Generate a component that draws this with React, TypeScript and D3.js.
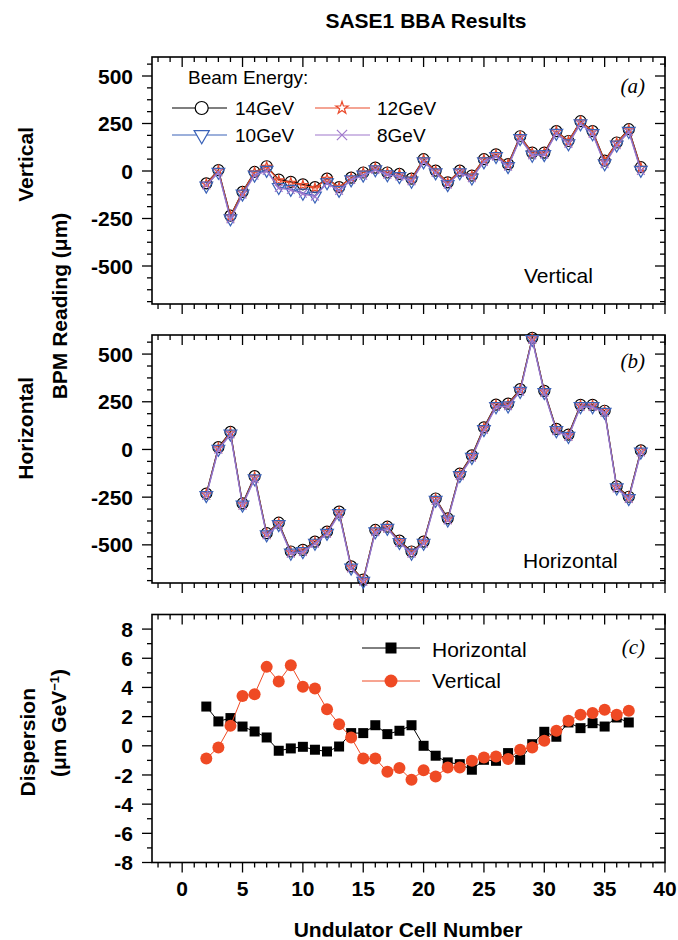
import React from 'react';
import * as d3 from 'd3';

// undulator cells
const cellsBPM = [2, 3, 4, 5, 6, 7, 8, 9, 10, 11, 12, 13, 14, 15, 16, 17, 18, 19, 20, 21, 22, 23, 24, 25, 26, 27, 28, 29, 30, 31, 32, 33, 34, 35, 36, 37, 38];
const cellsDisp = [2, 3, 4, 5, 6, 7, 8, 9, 10, 11, 12, 13, 14, 15, 16, 17, 18, 19, 20, 21, 22, 23, 24, 25, 26, 27, 28, 29, 30, 31, 32, 33, 34, 35, 36, 37];

// (a) vertical BPM reading, um
const vert14 = [-65, 5, -235, -110, -5, 25, -45, -57, -70, -85, -40, -85, -35, -8, 18, -8, -15, -40, 62, 2, -60, 2, -24, 62, 88, 36, 183, 97, 97, 210, 158, 262, 210, 55, 150, 220, 20];
const vert12 = [-68, 3, -238, -112, -7, 22, -50, -62, -75, -90, -42, -86, -37, -9, 16, -10, -17, -42, 60, 0, -62, 0, -26, 60, 86, 34, 181, 95, 95, 208, 156, 260, 208, 52, 148, 218, 17];
const vert10 = [-78, -5, -250, -120, -20, 5, -85, -95, -115, -130, -60, -100, -45, -20, 8, -18, -28, -52, 50, -8, -70, -8, -35, 50, 78, 25, 172, 85, 88, 200, 145, 250, 198, 40, 138, 210, 5];
const vert8 = [-75, -8, -255, -125, -25, 0, -90, -100, -120, -135, -65, -105, -48, -25, 5, -20, -30, -55, 48, -10, -72, -10, -38, 48, 75, 22, 170, 82, 85, 198, 142, 248, 195, 35, 135, 205, 0];

// (b) horizontal BPM reading, um
const horz14 = [-231, 12, 92, -283, -140, -439, -384, -535, -526, -483, -431, -326, -613, -682, -422, -405, -478, -535, -483, -257, -361, -127, -31, 116, 235, 240, 316, 585, 307, 108, 78, 234, 234, 203, -193, -248, -5];
const horz12 = [-235, 8, 88, -286, -145, -442, -388, -538, -530, -486, -434, -330, -616, -685, -425, -408, -482, -538, -486, -260, -364, -130, -35, 112, 232, 236, 312, 582, 304, 104, 74, 230, 230, 200, -196, -252, -8];
const horz10 = [-240, 2, 82, -290, -152, -446, -392, -542, -534, -490, -438, -335, -620, -690, -430, -412, -486, -542, -490, -265, -368, -135, -40, 106, 226, 230, 306, 578, 300, 100, 70, 226, 226, 196, -200, -256, -12];
const horz8 = [-243, -2, 78, -295, -156, -450, -396, -546, -538, -494, -442, -340, -624, -694, -434, -416, -490, -546, -494, -270, -372, -140, -44, 102, 222, 226, 302, 574, 296, 96, 66, 222, 222, 192, -204, -260, -16];

// (c) dispersion, um/GeV
const dispH = [2.69, 1.67, 1.9, 1.32, 0.98, 0.57, -0.34, -0.18, -0.07, -0.27, -0.39, -0.05, 0.87, 0.87, 1.41, 0.8, 1.03, 1.41, 0, -0.68, -1.14, -1.26, -1.64, -0.96, -1.03, -0.5, -0.96, 0.11, 0.96, 0.62, 1.6, 1.21, 1.55, 1.32, 1.94, 1.6];
const dispV = [-0.87, -0.11, 1.37, 3.42, 3.54, 5.41, 4.41, 5.52, 4.04, 3.93, 2.51, 1.48, 0.57, -0.87, -0.87, -1.78, -1.53, -2.33, -1.67, -2.1, -1.48, -1.48, -1.03, -0.8, -0.73, -0.91, -0.27, -0.11, 0.34, 1.03, 1.71, 2.12, 2.24, 2.47, 2.12, 2.4];

const bpmTicks = [-500, -250, 0, 250, 500];
const dispTicks = [-8, -6, -4, -2, 0, 2, 4, 6, 8];
const cellTicks = [0, 5, 10, 15, 20, 25, 30, 35, 40];

const SANS = '"Liberation Sans", Arial, Helvetica, sans-serif';
const SERIF = '"Liberation Serif", "Times New Roman", serif';
const RED = '#ea4a2b';
const BLUE = '#3a62b8';
const PURPLE = '#9f78cc';
const ORANGE = '#ef4a24';

const x = d3.scaleLinear().domain([-2.5, 40]).range([152, 665]);
const yA = d3.scaleLinear().domain([-700, 600]).range([304, 57]);
const yB = d3.scaleLinear().domain([-700, 600]).range([583, 335]);
const yC = d3.scaleLinear().domain([-8, 9]).range([862.5, 614.5]);

const sym = (type: d3.SymbolType, size: number) => d3.symbol().type(type).size(size)() as string;

const energies = [
  { name: '14GeV', color: '#000', type: d3.symbolCircle, size: 95, lsize: 133, rot: 0, a: vert14, b: horz14 },
  { name: '12GeV', color: RED, type: d3.symbolStar, size: 28, lsize: 47, rot: 0, a: vert12, b: horz12 },
  { name: '10GeV', color: BLUE, type: d3.symbolTriangle, size: 70, lsize: 100, rot: 180, a: vert10, b: horz10 },
  { name: '8GeV', color: PURPLE, type: d3.symbolX, size: 40, lsize: 70, rot: 0, a: vert8, b: horz8 },
];

function Frame({ y, major, minor, labels }: any) {
  const [xl, xr] = x.range();
  const [yb, yt] = y.range();
  const xMinor = d3.range(-2, 40).filter((v) => v % 5 !== 0);
  return (
    <g stroke="#000" strokeWidth={1.3}>
      <rect x={xl} y={yt} width={xr - xl} height={yb - yt} fill="none" strokeWidth={1.6} />
      {major.map((v: number) => (
        <g key={'M' + v}>
          <line x1={xl - 10} x2={xl} y1={y(v)} y2={y(v)} />
          <line x1={xr - 10} x2={xr} y1={y(v)} y2={y(v)} />
        </g>
      ))}
      {minor.map((v: number) => (
        <g key={'m' + v}>
          <line x1={xl - 5} x2={xl} y1={y(v)} y2={y(v)} />
          <line x1={xr - 5} x2={xr} y1={y(v)} y2={y(v)} />
        </g>
      ))}
      {cellTicks.map((v) => (
        <g key={'X' + v}>
          <line x1={x(v)} x2={x(v)} y1={yb} y2={yb + 10} />
          <line x1={x(v)} x2={x(v)} y1={yt} y2={yt + 10} />
        </g>
      ))}
      {xMinor.map((v) => (
        <g key={'x' + v}>
          <line x1={x(v)} x2={x(v)} y1={yb} y2={yb + 5} />
          <line x1={x(v)} x2={x(v)} y1={yt} y2={yt + 5} />
        </g>
      ))}
      {labels.map((v: number) => (
        <text key={'L' + v} x={133} y={y(v)} dy="0.36em" textAnchor="end" stroke="none" fill="#000"
          fontSize={21} fontWeight="bold">{v}</text>
      ))}
    </g>
  );
}

function EnergyPanel({ y, field }: any) {
  return (
    <g>
      {energies.map((s) => {
        const vals: number[] = s[field as 'a' | 'b'];
        const line = d3.line<number>().x((_, i) => x(cellsBPM[i])).y((d) => y(d));
        return (
          <g key={s.name}>
            <path d={line(vals) as string} fill="none" stroke={s.color} strokeWidth={1.2} />
            {vals.map((v, i) => (
              <path key={i} d={sym(s.type, s.size)} fill="none" stroke={s.color} strokeWidth={1.2}
                transform={`translate(${x(cellsBPM[i])},${y(v)}) rotate(${s.rot})`} />
            ))}
          </g>
        );
      })}
    </g>
  );
}

export default function App() {
  const minorBPM = d3.range(-687.5, 600, 62.5).filter((v) => v % 250 !== 0);
  const minorDisp = d3.range(-7, 9, 2);
  const lineH = d3.line<number>().x((_, i) => x(cellsDisp[i])).y((d) => yC(d));
  const legendPos = [
    { lx: 172, mx: 201.7, tx: 235, y: 108 },
    { lx: 315, mx: 342, tx: 377, y: 108 },
    { lx: 172, mx: 201.7, tx: 235, y: 135 },
    { lx: 315, mx: 342, tx: 377, y: 135 },
  ];
  return (
    <svg width={678} height={940} style={{ position: 'absolute', left: 0, top: 0, background: '#fff' }}
      fontFamily={SANS}>
      <text x={426} y={28} textAnchor="middle" fontSize={21} fontWeight="bold">SASE1 BBA Results</text>

      <Frame y={yA} major={bpmTicks} minor={minorBPM} labels={bpmTicks} />
      <Frame y={yB} major={bpmTicks} minor={minorBPM} labels={bpmTicks} />
      <Frame y={yC} major={dispTicks} minor={minorDisp} labels={dispTicks} />

      <EnergyPanel y={yA} field="a" />
      <EnergyPanel y={yB} field="b" />

      {/* panel (a) legend */}
      <text x={188} y={84} fontSize={19}>Beam Energy:</text>
      {energies.map((s, i) => {
        const p = legendPos[i];
        return (
          <g key={s.name}>
            <line x1={p.lx} x2={p.lx + 55} y1={p.y} y2={p.y} stroke={s.color} strokeWidth={1.1} />
            <path d={sym(s.type, s.lsize)} fill="#fff" stroke={s.color} strokeWidth={1.2}
              transform={`translate(${p.mx},${p.y}) rotate(${s.rot})`} />
            <text x={p.tx} y={p.y + 7} fontSize={19}>{s.name}</text>
          </g>
        );
      })}

      {/* panel (c) data */}
      <path d={lineH(dispH) as string} fill="none" stroke="#000" strokeWidth={1} />
      {dispH.map((v, i) => (
        <path key={'h' + i} d={sym(d3.symbolSquare, 100)} fill="#000"
          transform={`translate(${x(cellsDisp[i])},${yC(v)})`} />
      ))}
      <path d={lineH(dispV) as string} fill="none" stroke={ORANGE} strokeWidth={1} />
      {dispV.map((v, i) => (
        <circle key={'v' + i} cx={x(cellsDisp[i])} cy={yC(v)} r={6} fill={ORANGE} />
      ))}
      <line x1={362} x2={420} y1={648} y2={648} stroke="#000" strokeWidth={1} />
      <path d={sym(d3.symbolSquare, 121)} fill="#000" transform="translate(391,648)" />
      <text x={432} y={657} fontSize={21}>Horizontal</text>
      <line x1={362} x2={420} y1={681} y2={681} stroke={ORANGE} strokeWidth={1} />
      <circle cx={391} cy={681} r={6.5} fill={ORANGE} />
      <text x={432} y={688} fontSize={21}>Vertical</text>

      {/* panel tags and notes */}
      <text x={645} y={93} textAnchor="end" fontFamily={SERIF} fontStyle="italic" fontSize={21}>(a)</text>
      <text x={645} y={368} textAnchor="end" fontFamily={SERIF} fontStyle="italic" fontSize={21}>(b)</text>
      <text x={645} y={654} textAnchor="end" fontFamily={SERIF} fontStyle="italic" fontSize={21}>(c)</text>
      <text x={524} y={283} fontSize={21}>Vertical</text>
      <text x={523} y={568} fontSize={21}>Horizontal</text>

      {/* axis titles */}
      {cellTicks.map((v) => (
        <text key={'xl' + v} x={x(v)} y={896} textAnchor="middle" fontSize={21} fontWeight="bold">{v}</text>
      ))}
      <text x={408} y={937} textAnchor="middle" fontSize={21} fontWeight="bold">Undulator Cell Number</text>
      <g fontSize={21} fontWeight="bold">
        <text transform="translate(33,127) rotate(-90)" textAnchor="end">Vertical</text>
        <text transform="translate(33,377) rotate(-90)" textAnchor="end">Horizontal</text>
        <text transform="translate(67,306) rotate(-90)" textAnchor="middle">BPM Reading (μm)</text>
        <text transform="translate(35,688) rotate(-90)" textAnchor="end">Dispersion</text>
        <text transform="translate(66,723) rotate(-90)" textAnchor="middle">
          (μm GeV<tspan dy={-7} fontSize={13}>−1</tspan><tspan dy={7}>)</tspan>
        </text>
      </g>
    </svg>
  );
}
